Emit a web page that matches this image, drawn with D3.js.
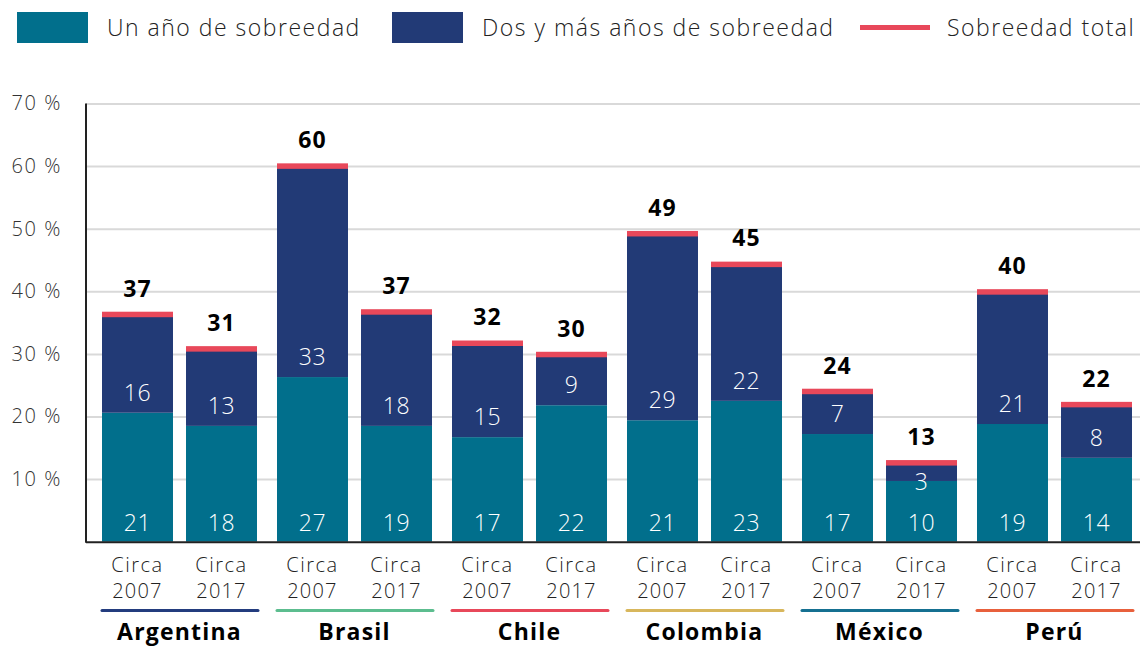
<!DOCTYPE html>
<html>
<head>
<meta charset="utf-8">
<script src="https://cdn.jsdelivr.net/npm/d3@7"></script>
<style>
  body { margin: 0; background: #fff; }
  svg { font-family: "Open Sans", sans-serif; }
</style>
</head>
<body>
<svg id="chart" width="1140" height="648"></svg>
<script>
const countries = ["Argentina", "Brasil", "Chile", "Colombia", "México", "Perú"];
const periods = ["2007", "2017"];
const countryColors = ["#233C7E", "#5CBD8F", "#E8485A", "#D8B75C", "#157091", "#E8603C"];
const legendNames = ["Un año de sobreedad", "Dos y más años de sobreedad", "Sobreedad total"];

// bar heights (per country, 2007 then 2017)
const oneYear = [20.6, 18.5, 26.3, 18.5, 16.7, 21.8, 19.4, 22.5, 17.2, 9.7, 18.8, 13.4];
const twoPlus = [15.7, 12.3, 33.7, 18.2, 15.0, 8.1, 29.8, 21.8, 6.8, 2.9, 21.1, 8.5];
// printed labels
const oneYearLabels = [21, 18, 27, 19, 17, 22, 21, 23, 17, 10, 19, 14];
const twoPlusLabels = [16, 13, 33, 18, 15, 9, 29, 22, 7, 3, 21, 8];
const totalLabels = [37, 31, 60, 37, 32, 30, 49, 45, 24, 13, 40, 22];
const yTicks = [10, 20, 30, 40, 50, 60, 70];

const teal = "#016F8C";
const navy = "#223A76";
const red = "#E8485A";

const svg = d3.select('#chart');
const plotLeft = 86, plotRight = 1140, plotTop = 103.5, plotBottom = 541.7;

const y = d3.scaleLinear().domain([0, 70]).range([plotBottom, plotTop]);
const x0 = d3.scaleBand().domain(countries).range([plotLeft, plotLeft + 1050]).padding(0);
const x1 = d3.scaleBand().domain(periods).range([16, 171]).paddingInner(0.155).paddingOuter(0);

// gridlines
svg.append("g")
    .attr("transform", `translate(${plotLeft},0)`)
    .call(d3.axisLeft(y).tickValues(yTicks).tickSize(-(plotRight - plotLeft)).tickFormat(""))
    .call(g => g.select(".domain").remove())
    .call(g => g.selectAll("line").attr("stroke", "#D9D9D9").attr("stroke-width", 2));

// y tick labels
svg.append("g")
    .attr("transform", `translate(${plotLeft},0)`)
    .call(d3.axisLeft(y).tickValues(yTicks).tickSize(0).tickPadding(24).tickFormat(d => d + " %"))
    .call(g => g.select(".domain").remove())
    .call(g => g.selectAll("text")
        .attr("font-family", "Open Sans").attr("font-size", 20).attr("font-weight", 300)
        .attr("letter-spacing", 1.6).attr("fill", "#333"));

const rows = [];
countries.forEach(function(c, i) {
    periods.forEach(function(p, j) {
        const k = i * 2 + j;
        rows.push({
            country: c, period: p,
            a: oneYear[k], b: twoPlus[k], total: oneYear[k] + twoPlus[k],
            aLabel: oneYearLabels[k], bLabel: twoPlusLabels[k], tLabel: totalLabels[k]
        });
    });
});

const bw = x1.bandwidth();
const bars = svg.append("g").selectAll("g").data(rows).join("g")
    .attr("transform", d => `translate(${x0(d.country) + x1(d.period)},0)`);

bars.append("rect")
    .attr("x", 0).attr("width", bw)
    .attr("y", d => y(d.a)).attr("height", d => y(0) - y(d.a))
    .attr("fill", teal);

bars.append("rect")
    .attr("x", 0).attr("width", bw)
    .attr("y", d => y(d.total)).attr("height", d => y(d.a) - y(d.total))
    .attr("fill", navy);

bars.append("rect")
    .attr("x", 0).attr("width", bw)
    .attr("y", d => y(d.total) - 2.75).attr("height", 5.5)
    .attr("fill", red);

bars.append("text")
    .attr("x", bw / 2).attr("y", d => y(0) - 19)
    .attr("dy", "0.35em").attr("text-anchor", "middle")
    .attr("fill", "#fff").attr("font-size", 23).attr("font-weight", 300)
    .attr("letter-spacing", 0.5)
    .text(d => d.aLabel);

bars.append("text")
    .attr("x", bw / 2)
    .attr("y", function(d) {
        const h = y(d.a) - y(d.total);
        return h < 25 ? y(d.a) + 1 : y(d.a) - 20;
    })
    .attr("dy", "0.35em").attr("text-anchor", "middle")
    .attr("fill", "#fff").attr("font-size", 23).attr("font-weight", 300)
    .attr("letter-spacing", 0.5)
    .text(d => d.bLabel);

bars.append("text")
    .attr("x", bw / 2).attr("y", d => y(d.total) - 26)
    .attr("dy", "0.35em").attr("text-anchor", "middle")
    .attr("fill", "#000").attr("font-size", 23).attr("font-weight", 700)
    .attr("letter-spacing", 1)
    .text(d => d.tLabel);

// axes lines
svg.append("line")
    .attr("x1", plotLeft).attr("x2", plotLeft).attr("y1", plotTop).attr("y2", plotBottom + 1)
    .attr("stroke", "#222").attr("stroke-width", 2);
svg.append("line")
    .attr("x1", plotLeft).attr("x2", plotRight).attr("y1", plotBottom + 0.5).attr("y2", plotBottom + 0.5)
    .attr("stroke", "#222").attr("stroke-width", 2);

// category labels
bars.append("text")
    .attr("x", bw / 2).attr("y", 572)
    .attr("text-anchor", "middle").attr("font-size", 20).attr("font-weight", 300)
    .attr("letter-spacing", 1.5).attr("fill", "#222")
    .text("Circa");
bars.append("text")
    .attr("x", bw / 2).attr("y", 598)
    .attr("text-anchor", "middle").attr("font-size", 20).attr("font-weight", 300)
    .attr("letter-spacing", 1.2).attr("fill", "#222")
    .text(d => d.period);

const groups = svg.append("g").selectAll("g").data(countries).join("g")
    .attr("transform", d => `translate(${x0(d)},0)`);

groups.append("line")
    .attr("x1", x1(periods[0])).attr("x2", x1(periods[1]) + bw + 1)
    .attr("y1", 610.5).attr("y2", 610.5)
    .attr("stroke", (d, i) => countryColors[i]).attr("stroke-width", 3)
    .attr("stroke-linecap", "round");

groups.append("text")
    .attr("x", (x1(periods[0]) + x1(periods[1]) + bw) / 2).attr("y", 640)
    .attr("text-anchor", "middle").attr("font-size", 23).attr("font-weight", 700)
    .attr("letter-spacing", 1.2).attr("fill", "#000")
    .text(d => d);

// legend
const legend = svg.append("g");
const legendX = [17, 392, 860];
legend.append("rect").attr("x", legendX[0]).attr("y", 12).attr("width", 71).attr("height", 31).attr("fill", teal);
legend.append("rect").attr("x", legendX[1]).attr("y", 12).attr("width", 71).attr("height", 31).attr("fill", navy);
legend.append("rect").attr("x", legendX[2]).attr("y", 25).attr("width", 70).attr("height", 5).attr("fill", red);
const legendTextX = [107, 482, 947];
legend.selectAll("text").data(legendNames).join("text")
    .attr("x", (d, i) => legendTextX[i]).attr("y", 28).attr("dy", "0.35em")
    .attr("font-size", 23).attr("font-weight", 300).attr("letter-spacing", 1.5).attr("fill", "#222")
    .text(d => d);
</script>
</body>
</html>
